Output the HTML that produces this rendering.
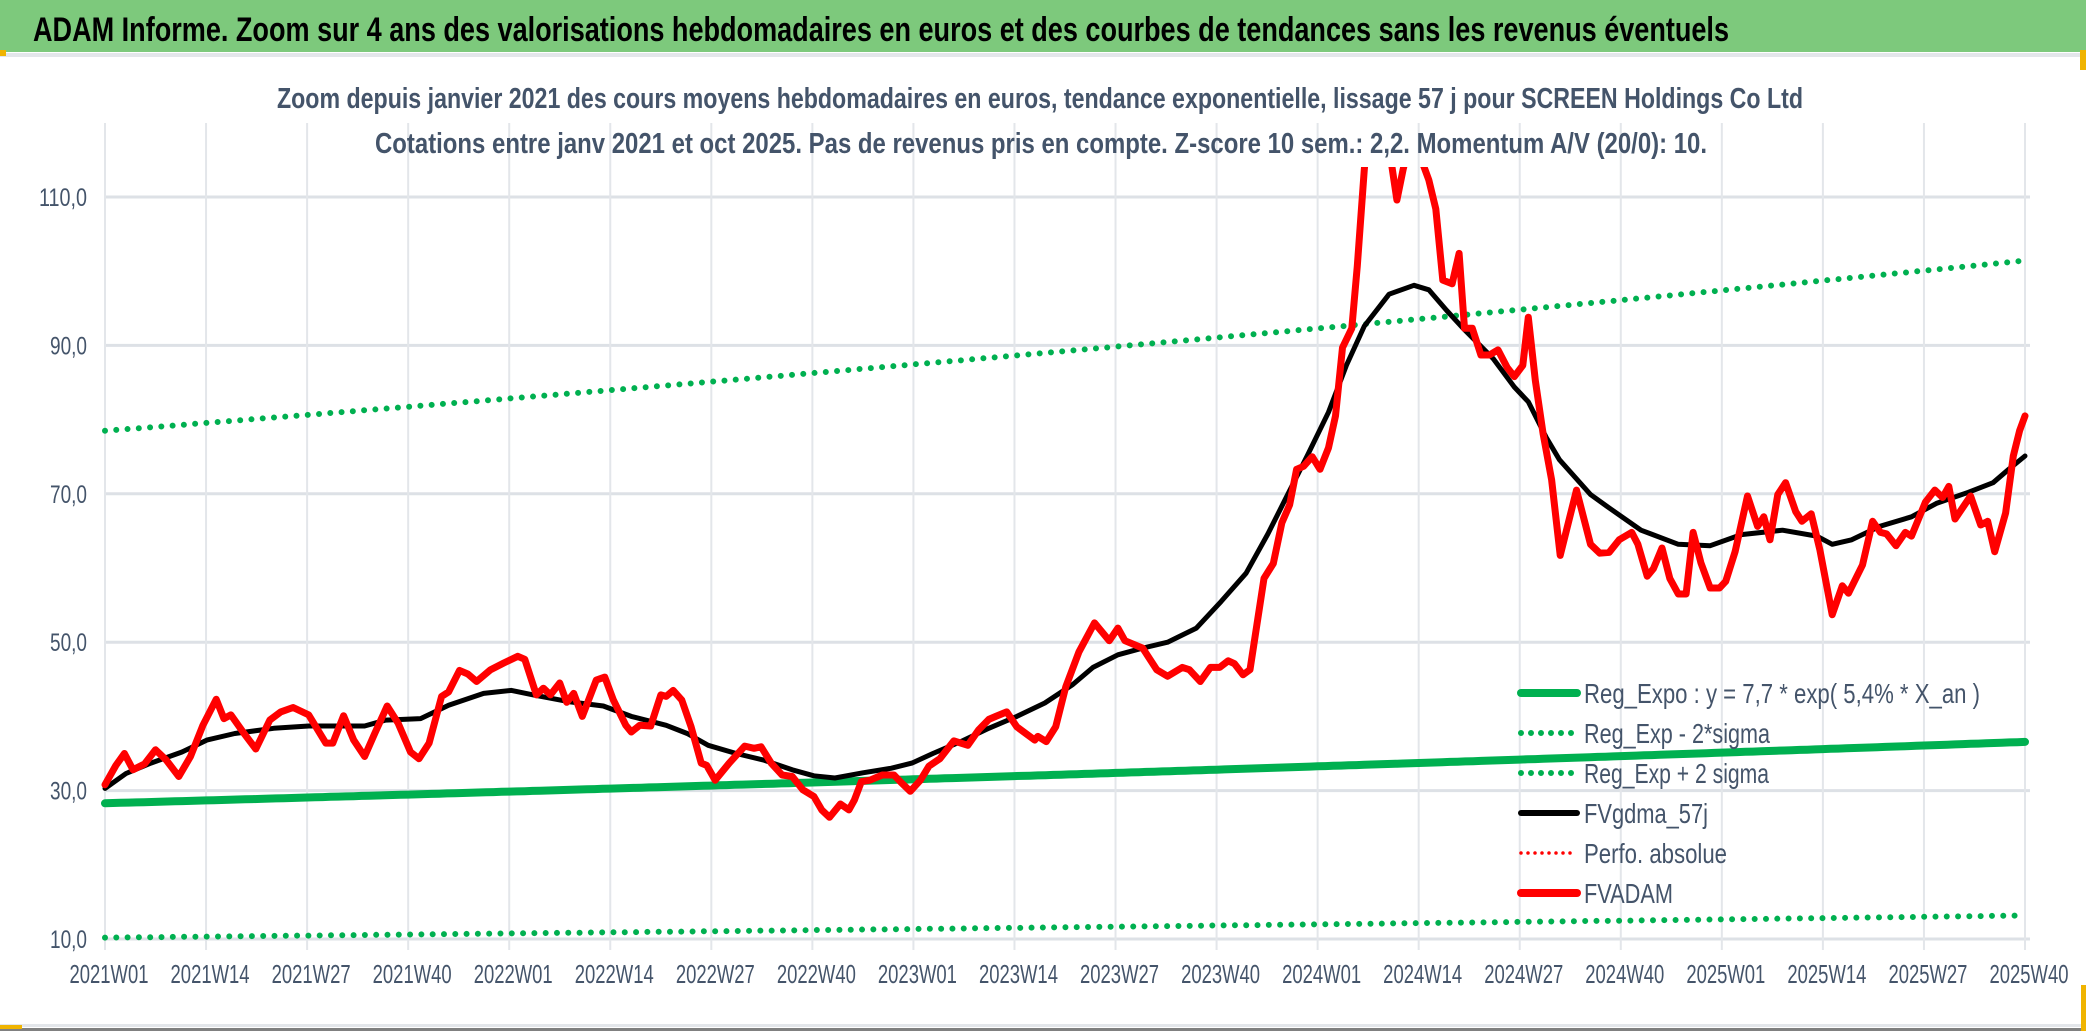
<!DOCTYPE html>
<html><head><meta charset="utf-8"><style>
html,body{margin:0;padding:0;background:#fff;}
svg{display:block;}
text{font-family:"Liberation Sans",sans-serif;}
</style></head><body>
<svg id="chart" width="2086" height="1031" viewBox="0 0 2086 1031" xmlns="http://www.w3.org/2000/svg">
<rect x="0" y="0" width="2086" height="1031" fill="#ffffff"/>
<rect x="0" y="0" width="2086" height="52" fill="#7dc97c"/>
<rect x="0" y="53" width="2086" height="4" fill="#e3e6ea"/>
<rect x="0" y="50" width="6" height="6" fill="#f0b400"/>
<rect x="2080" y="50" width="6" height="20" fill="#f0b400"/>
<text x="33" y="41" font-size="34" font-weight="bold" fill="#000" textLength="1696" lengthAdjust="spacingAndGlyphs">ADAM Informe. Zoom sur 4 ans des valorisations hebdomadaires en euros et des courbes de tendances sans les revenus éventuels</text>
<text x="277" y="108" font-size="29" font-weight="bold" fill="#44546a" textLength="1526" lengthAdjust="spacingAndGlyphs">Zoom depuis janvier 2021 des cours moyens hebdomadaires en euros, tendance exponentielle, lissage 57 j pour SCREEN Holdings Co Ltd</text>
<g id="grid"></g>
<text x="375" y="153" font-size="29" font-weight="bold" fill="#44546a" textLength="1332" lengthAdjust="spacingAndGlyphs">Cotations entre janv 2021 et oct 2025. Pas de revenus pris en compte. Z-score 10 sem.: 2,2. Momentum A/V (20/0): 10.</text>
<defs><clipPath id="plotclip"><rect x="95" y="167" width="1960" height="800"/></clipPath></defs>
<g id="series" clip-path="url(#plotclip)"></g>
<g id="legend"></g>
<rect x="0" y="1024" width="2086" height="3" fill="#e3e6ea"/>
<rect x="0" y="1028" width="2086" height="3" fill="#808080"/>
<rect x="0" y="1025" width="22" height="4" fill="#f0b400"/>
<rect x="2081" y="985" width="5" height="46" fill="#f0b400"/>
</svg>
<script>
// ---- data ----
const xTickLabels = ["2021W01","2021W14","2021W27","2021W40","2022W01","2022W14","2022W27","2022W40","2023W01","2023W14","2023W27","2023W40","2024W01","2024W14","2024W27","2024W40","2025W01","2025W14","2025W27","2025W40"];
const yTickValues = [10,30,50,70,90,110];
const yTickLabels = ["10,0","30,0","50,0","70,0","90,0","110,0"];
const totalWeeks = 247;
const regCoef = 7.7, regRate = 0.054, regYearOffset = 24.1;
const sigmaMultipliers = [2.774, 0.360];
const priceWeeks = [0,1.4,2.5,3.6,5.1,6.5,7.9,9.5,11,12.6,14.3,15.3,16.2,17.9,19.4,21.2,22.6,24.2,26.2,28.4,29.3,30.7,32,33.4,34.7,36.3,37.7,39.3,40.4,41.7,43.3,44.2,45.6,46.7,47.8,49.6,51.3,53.1,54,55.5,56.4,57.3,58.5,59.4,60.3,61.4,63.2,64.3,65.4,67,67.7,68.8,70.2,71.5,72.2,73.1,74.2,75.4,76.7,77.4,78.5,80.3,82.3,83.5,84.4,85.7,87.1,88.4,89.8,91.2,92.2,93.2,94.6,95.7,96.4,97.3,98.4,100,101.5,102.4,103.6,104.9,106,107.4,109.2,111,112.4,113.7,114.6,116,117.3,119.6,120,121.1,122.3,123.6,125.3,127.3,129.2,130.3,131.2,133.5,135.3,136.7,138.6,139.5,140.9,142.2,143.4,144.5,145.3,146.4,147.3,149.1,150.3,151.4,152.4,153.3,154.2,155.3,156.3,157.4,158.3,159.2,160.4,161.1,162,163,164,165,166.2,167,168,169,170.3,171.2,172.1,173.3,174.2,174.9,175.9,177,178.1,179.2,180.4,181.3,182.4,183.1,184,185,186.1,187.2,189.3,191.1,192.3,193.5,194.8,196.4,197.2,198.4,199.2,200.3,201.3,202.4,203.4,204.3,205.3,206.5,207.7,208.5,209.7,211.3,212.6,213.4,214.2,215.2,216.2,217.5,218.3,219.5,220.6,222.2,223.5,224.3,226.1,227.4,228.4,229.2,230.4,231.6,232.4,234.2,235.4,236.4,237.2,238,240,241.3,242.2,243.1,244.5,245.5,246.3,247];
const priceValues = [30.8,33.4,35.0,32.8,33.6,35.5,34.1,31.9,34.6,38.8,42.3,39.7,40.2,37.7,35.6,39.5,40.6,41.2,40.2,36.4,36.4,40.1,36.8,34.6,37.7,41.4,39.1,35.2,34.3,36.4,42.7,43.3,46.2,45.7,44.7,46.3,47.2,48.1,47.7,42.9,43.8,42.9,44.5,41.9,43.1,40.0,44.9,45.3,42.2,38.8,37.9,38.8,38.7,42.9,42.7,43.5,42.2,38.6,33.7,33.4,31.4,33.7,36.0,35.7,35.9,33.7,32.1,31.9,30.1,29.2,27.4,26.4,28.2,27.4,28.7,31.2,31.4,32.1,32.1,31.1,29.9,31.4,33.3,34.3,36.7,36.1,38.2,39.6,40.0,40.6,38.6,36.8,37.3,36.6,38.6,44.0,48.7,52.6,50.2,51.9,50.2,49.2,46.3,45.4,46.6,46.3,44.7,46.6,46.6,47.5,47.1,45.6,46.3,58.6,60.6,66.1,68.5,73.3,73.7,75.0,73.3,76.2,80.5,89.7,92.3,100.7,113.7,125,122,118,109.6,113.7,118,116,112.3,108.4,98.8,98.3,102.4,92.3,92.3,88.7,88.7,89.4,87.0,85.8,87.3,93.8,85.3,78.1,71.9,61.7,70.5,63.2,62.0,62.1,63.8,64.8,63.2,58.9,59.9,62.7,58.6,56.5,56.5,64.8,60.7,57.3,57.3,58.2,62.2,69.7,65.6,66.9,63.8,69.9,71.5,67.6,66.3,67.3,62.5,53.7,57.6,56.6,60.4,66.3,64.8,64.6,63.0,64.8,64.3,68.9,70.5,69.5,71.0,66.6,69.7,65.8,66.3,62.2,67.4,75.1,78.5,80.5];
const smoothWeeks = [0,2.7,5.9,9.9,13.1,16.7,21.7,26.2,33.4,36.1,40.6,44.2,48.7,52.3,55.1,59.6,64.1,67.7,72.2,74.9,77.6,81.2,84.8,88.4,91.2,93.9,97.5,101.1,103.8,106.5,110.1,113.7,117.3,120.9,124.5,127.1,130.3,133.5,136.7,140.4,143.6,146.8,149.6,151.9,154.7,157.4,159.7,162,165.2,168.4,170.3,172.6,174.9,178.6,181.3,183.1,185.4,187.1,191.1,193.5,197.6,202.4,206.5,210.5,215.8,220.2,222.2,224.7,228.3,232.4,235.6,239.7,242.9,244.9,247];
const smoothValues = [30.3,32.3,33.7,35.2,36.8,37.7,38.4,38.7,38.7,39.5,39.7,41.5,43.1,43.5,42.9,42.0,41.4,40.0,38.8,37.7,36.1,35.0,34.1,32.8,32.0,31.7,32.4,33.0,33.7,35.0,36.6,38.4,40.0,41.8,44.3,46.6,48.3,49.2,50.0,51.9,55.5,59.3,64.6,69.4,75.2,81.0,87.3,92.6,96.9,98.1,97.5,94.7,92.1,88.2,84.4,82.4,77.6,74.6,69.9,68.1,65.1,63.2,63.0,64.5,65.1,64.3,63.2,63.8,65.6,66.9,68.7,70.2,71.5,73.3,75.1];

// ---- axes ----
const X0 = 105, X1 = 2025, Y10 = 939, PXV = 7.42;
function xScale(w){ return X0 + (X1 - X0) * w / totalWeeks; }
function yScale(v){ return Y10 - (v - 10) * PXV; }
const NS = "http://www.w3.org/2000/svg";
function mk(tag, attrs, parent){ const e = document.createElementNS(NS, tag); for (const k in attrs) e.setAttribute(k, attrs[k]); parent.appendChild(e); return e; }
const grid = document.getElementById('grid');
const series = document.getElementById('series');
const legend = document.getElementById('legend');

for (let i = 0; i < yTickValues.length; i++) {
  const y = yScale(yTickValues[i]);
  const gl = mk('line', {x1: X0, x2: 2030, y1: y, y2: y, stroke: '#dde1e6', 'stroke-width': 3}, grid);
  
  
  const t = mk('text', {x: 87, y: y + 9, 'font-size': 25, fill: '#44546a', 'text-anchor': 'end', textLength: (yTickLabels[i].length > 4 ? 48 : 37), lengthAdjust: 'spacingAndGlyphs'}, grid);
  
  
  t.textContent = yTickLabels[i];
}
for (let i = 0; i < xTickLabels.length; i++) {
  const x = xScale(i * 13);
  const vl = mk('line', {x1: x, x2: x, y1: 123, y2: 950, stroke: '#e3e6ea', 'stroke-width': 2}, grid);
  
  
  const t = mk('text', {x: x + 4, y: 983, 'font-size': 26, fill: '#44546a', 'text-anchor': 'middle', textLength: 79, lengthAdjust: 'spacingAndGlyphs'}, grid);
  
  
  t.textContent = xTickLabels[i];
}

function regValue(w, m){ return m * regCoef * Math.exp(regRate * (regYearOffset + w / 52)); }
function regPoints(m){ const p = []; for (let w = 0; w <= totalWeeks; w += 1) p.push(xScale(w).toFixed(1) + ',' + yScale(regValue(w, m)).toFixed(1)); return p.join(' '); }

const up = mk('polyline', {points: regPoints(sigmaMultipliers[0]), fill: 'none', stroke: '#00b050', 'stroke-width': 6, 'stroke-linecap': 'round', 'stroke-dasharray': '0 11.3'}, series);


const lo = mk('polyline', {points: regPoints(sigmaMultipliers[1]), fill: 'none', stroke: '#00b050', 'stroke-width': 6, 'stroke-linecap': 'round', 'stroke-dasharray': '0 11.3'}, series);


const reg = mk('polyline', {points: regPoints(1), fill: 'none', stroke: '#00b050', 'stroke-width': 8, 'stroke-linecap': 'round'}, series);



function pts(ws, vs){ return ws.map((w, i) => xScale(w).toFixed(1) + ',' + yScale(vs[i]).toFixed(1)).join(' '); }
const sm = mk('polyline', {points: pts(smoothWeeks, smoothValues), fill: 'none', stroke: '#000', 'stroke-width': 5, 'stroke-linejoin': 'round', 'stroke-linecap': 'round'}, series);


const pr = mk('polyline', {points: pts(priceWeeks, priceValues), fill: 'none', stroke: '#ff0000', 'stroke-width': 7, 'stroke-linejoin': 'round', 'stroke-linecap': 'round'}, series);



// ---- legend ----
const legendLabels = ["Reg_Expo : y = 7,7 * exp( 5,4% *  X_an )","Reg_Exp - 2*sigma","Reg_Exp + 2 sigma","FVgdma_57j","Perfo. absolue","FVADAM"];
const legendWidths = [396,186,185,124,143,89];
const legendStyles = [["#00b050",8,""],["#00b050",6,"0 10"],["#00b050",6,"0 10"],["#000000",6,""],["#ff0000",3.5,"0 7"],["#ff0000",8,""]];
for (let i = 0; i < legendLabels.length; i++) {
  const y = 693 + i * 40;
  const st = legendStyles[i];
  const a = {x1: 1521, x2: 1577, y1: y, y2: y, stroke: st[0], 'stroke-width': st[1], 'stroke-linecap': 'round'};
  if (st[2]) a['stroke-dasharray'] = st[2];
  const ln = mk('line', a, legend);
  
  
  const t = mk('text', {x: 1584, y: y + 10, 'font-size': 28, fill: '#44546a', textLength: legendWidths[i], lengthAdjust: 'spacingAndGlyphs'}, legend);
  
  
  t.textContent = legendLabels[i];
}
</script>
</body></html>
